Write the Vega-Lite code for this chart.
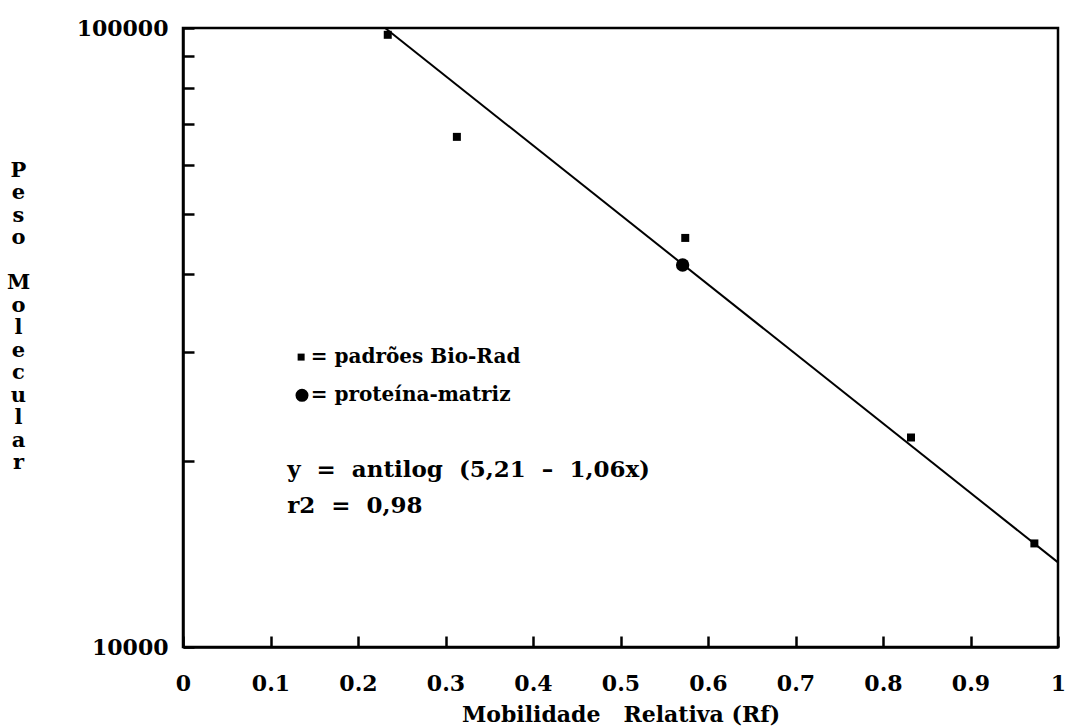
{
  "$schema": "https://vega.github.io/schema/vega-lite/v6.json",
  "width": 875,
  "height": 619,
  "autosize": {"type": "none"},
  "padding": {"left": 183, "top": 28, "right": 7, "bottom": 81},
  "background": "white",
  "config": {
    "view": {"stroke": "black", "strokeWidth": 2.5},
    "font": "DejaVu Serif"
  },
  "datasets": {
    "padroes": [
      {"rf": 0.234, "pm": 97500},
      {"rf": 0.313, "pm": 66700},
      {"rf": 0.574, "pm": 45800},
      {"rf": 0.832, "pm": 21800},
      {"rf": 0.973, "pm": 14700}
    ],
    "matriz": [
      {"rf": 0.571, "pm": 41400}
    ],
    "ajuste": [
      {"rf": 0.231, "pm": 100000},
      {"rf": 1.0, "pm": 13700}
    ]
  },
  "layer": [
    {
      "data": {"name": "ajuste"},
      "mark": {"type": "line", "color": "black", "strokeWidth": 2},
      "encoding": {
        "x": {
          "field": "rf", "type": "quantitative",
          "scale": {"domain": [0, 1], "nice": false, "zero": false},
          "axis": {
            "title": "Mobilidade\u00a0\u00a0 Relativa (Rf)",
            "values": [0, 0.1, 0.2, 0.3, 0.4, 0.5, 0.6, 0.7, 0.8, 0.9, 1],
            "format": "~g",
            "grid": false,
            "domainColor": "black", "domainWidth": 2.5,
            "tickColor": "black", "tickSize": -11, "tickWidth": 2.5,
            "labelFont": "DejaVu Serif", "labelFontWeight": "bold", "labelFontSize": 22,
            "labelColor": "black", "labelPadding": 37, "labelFlush": false,
            "titleFont": "DejaVu Serif", "titleFontWeight": "bold", "titleFontSize": 22,
            "titleColor": "black", "titlePadding": 10
          }
        },
        "y": {
          "field": "pm", "type": "quantitative",
          "scale": {"type": "log", "domain": [10000, 100000], "nice": false},
          "axis": {
            "title": ["P","e","s","o","\u200b","M","o","l","e","c","u","l","a","r"],
            "titleAngle": 0,
            "titleX": -165,
            "titleY": 142,
            "titleAlign": "center",
            "titleBaseline": "middle",
            "titleLineHeight": 22.5,
            "titleFont": "DejaVu Serif", "titleFontWeight": "bold", "titleFontSize": 21,
            "titleColor": "black",
            "values": [10000, 20000, 30000, 40000, 50000, 60000, 70000, 80000, 90000, 100000],
            "labelExpr": "datum.value == 10000 || datum.value == 100000 ? datum.value : ''",
            "grid": false,
            "domainColor": "black", "domainWidth": 2.5,
            "tickColor": "black", "tickSize": -11, "tickWidth": 2.5,
            "labelFont": "DejaVu Serif", "labelFontWeight": "bold", "labelFontSize": 22,
            "labelColor": "black", "labelPadding": 26, "labelFlush": false
          }
        }
      }
    },
    {
      "data": {"name": "padroes"},
      "mark": {"type": "point", "shape": "square", "filled": true, "color": "black", "size": 64, "opacity": 1},
      "encoding": {
        "x": {"field": "rf", "type": "quantitative"},
        "y": {"field": "pm", "type": "quantitative"}
      }
    },
    {
      "data": {"name": "matriz"},
      "mark": {"type": "point", "shape": "circle", "filled": true, "color": "black", "size": 180, "opacity": 1},
      "encoding": {
        "x": {"field": "rf", "type": "quantitative"},
        "y": {"field": "pm", "type": "quantitative"}
      }
    },
    {
      "data": {"values": [{}]},
      "mark": {"type": "point", "shape": "square", "filled": true, "color": "black", "size": 49, "opacity": 1},
      "encoding": {"x": {"datum": 0.135}, "y": {"datum": 29400}}
    },
    {
      "data": {"values": [{}]},
      "mark": {"type": "point", "shape": "circle", "filled": true, "color": "black", "size": 170, "opacity": 1},
      "encoding": {"x": {"datum": 0.136}, "y": {"datum": 25500}}
    },
    {
      "data": {"values": [{}]},
      "mark": {"type": "text", "text": "= padrões Bio-Rad", "align": "left", "baseline": "middle", "font": "DejaVu Serif", "fontWeight": "bold", "fontSize": 20, "color": "black"},
      "encoding": {"x": {"datum": 0.146}, "y": {"datum": 29400}}
    },
    {
      "data": {"values": [{}]},
      "mark": {"type": "text", "text": "= proteína-matriz", "align": "left", "baseline": "middle", "font": "DejaVu Serif", "fontWeight": "bold", "fontSize": 20, "color": "black"},
      "encoding": {"x": {"datum": 0.146}, "y": {"datum": 25500}}
    },
    {
      "data": {"values": [{}]},
      "mark": {"type": "text", "text": "y\u00a0 =\u00a0 antilog\u00a0 (5,21\u00a0 –\u00a0 1,06x)", "align": "left", "baseline": "middle", "font": "DejaVu Serif", "fontWeight": "bold", "fontSize": 23, "color": "black"},
      "encoding": {"x": {"datum": 0.119}, "y": {"datum": 19300}}
    },
    {
      "data": {"values": [{}]},
      "mark": {"type": "text", "text": "r2\u00a0 =\u00a0 0,98", "align": "left", "baseline": "middle", "font": "DejaVu Serif", "fontWeight": "bold", "fontSize": 23, "color": "black"},
      "encoding": {"x": {"datum": 0.119}, "y": {"datum": 16900}}
    }
  ]
}
